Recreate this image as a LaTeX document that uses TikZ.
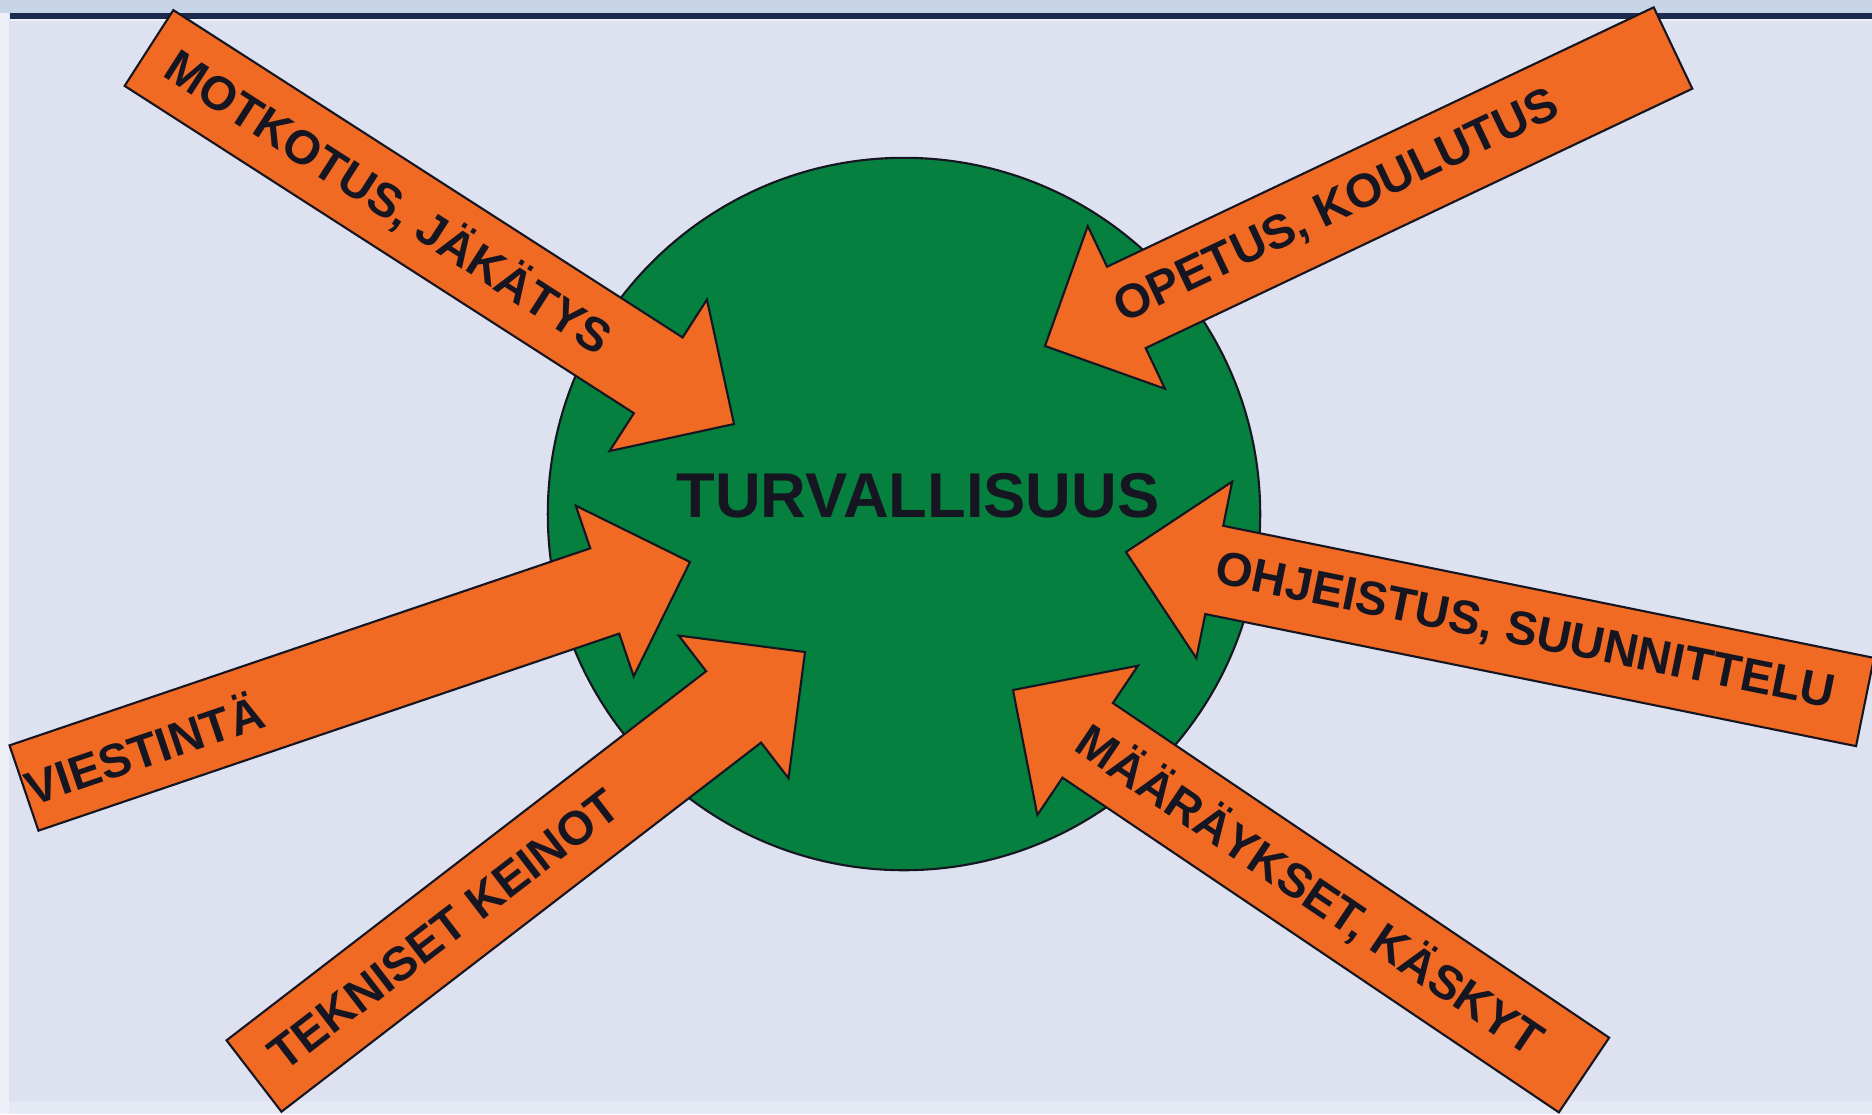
\documentclass[tikz,border=0pt]{standalone}
\usepackage{fontspec}
\setmainfont{Liberation Sans}
\usetikzlibrary{calc}

\definecolor{slidebg}{RGB}{221,225,240}
\definecolor{titleband}{RGB}{200,213,232}
\definecolor{titleline}{RGB}{28,42,78}
\definecolor{safegreen}{RGB}{6,128,62}
\definecolor{arroworange}{RGB}{240,106,36}
\definecolor{inkdark}{RGB}{22,22,34}

\begin{document}
\begin{tikzpicture}[x=0.01cm,y=-0.01cm,line width=0.6pt,
    main node/.style={circle,draw=inkdark,fill=safegreen,minimum size=7.12cm,inner sep=0pt},
    block arrow/.style={draw=inkdark,fill=arroworange,line join=miter,
      to path={($(\tikztostart)!0.45cm!90:(\tikztotarget)$)
        -- ($(\tikztotarget)!0.9cm!(\tikztostart)!0.45cm!90:(\tikztotarget)$)
        -- ($(\tikztotarget)!0.9cm!(\tikztostart)!0.9cm!90:(\tikztotarget)$)
        -- (\tikztotarget)
        -- ($(\tikztotarget)!0.9cm!(\tikztostart)!0.9cm!-90:(\tikztotarget)$)
        -- ($(\tikztotarget)!0.9cm!(\tikztostart)!0.45cm!-90:(\tikztotarget)$)
        -- ($(\tikztostart)!0.45cm!-90:(\tikztotarget)$) -- cycle}},
    arrow label/.style={font=\bfseries\fontsize{13.5}{16}\selectfont,text=inkdark,inner sep=0pt}]

  \useasboundingbox (0,0) rectangle (1872,1114);
  \fill[slidebg] (0,0) rectangle (1872,1114);
  \fill[titleband] (0,0) rectangle (1872,13);
  \fill[titleline] (10,12.5) rectangle (1872,18.5);
  \fill[white!55!slidebg] (10,18.5) rectangle (1872,21);
  \fill[white!50!slidebg] (0,13) rectangle (9,1114);
  \fill[white!25!slidebg] (9,1101) rectangle (1872,1114);

  \node[main node] (turva) at (904,514) {};

  \coordinate (motkotus-tail) at (149,48);    \coordinate (motkotus-tip) at (734,424);
  \coordinate (opetus-tail) at (1673,48);     \coordinate (opetus-tip) at (1045,346);
  \coordinate (ohjeistus-tail) at (1865,702); \coordinate (ohjeistus-tip) at (1126,552);
  \coordinate (maaraykset-tail) at (1584,1075); \coordinate (maaraykset-tip) at (1013,690);
  \coordinate (viestinta-tail) at (24,788);   \coordinate (viestinta-tip) at (690,562);
  \coordinate (tekniset-tail) at (254,1076);  \coordinate (tekniset-tip) at (805,652);

  \foreach \n/\f/\txt in {motkotus/0.41/{MOTKOTUS, JÄKÄTYS},
                          opetus/0.535/{OPETUS, KOULUTUS},
                          ohjeistus/0.46/{OHJEISTUS, SUUNNITTELU},
                          maaraykset/0.48/{MÄÄRÄYKSET, KÄSKYT},
                          viestinta/0.18/{VIESTINTÄ},
                          tekniset/0.345/{TEKNISET KEINOT}}{
    \draw[block arrow] (\n-tail) to (\n-tip);
    \path (\n-tail) -- (\n-tip) node[arrow label,pos=\f,sloped] {\txt};
  }

  \node[font=\bfseries\fontsize{18}{22}\selectfont,text=inkdark,inner sep=0pt]
    (turvallisuus) at (918,496) {TURVALLISUUS};
\end{tikzpicture}
\end{document}
